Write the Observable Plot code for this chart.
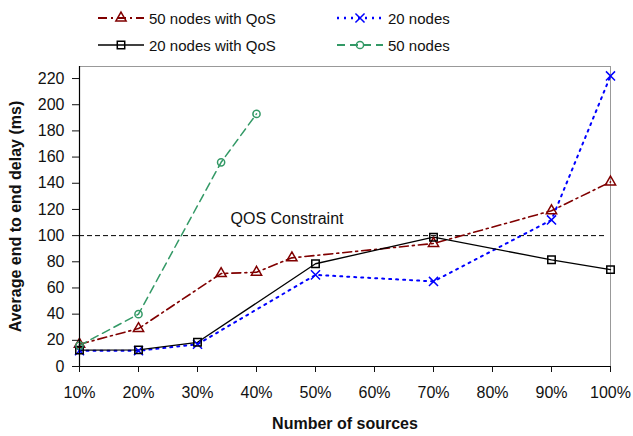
<!DOCTYPE html>
<html>
<head>
<meta charset="utf-8">
<script src="https://cdn.jsdelivr.net/npm/d3@7"></script>
<script src="https://cdn.jsdelivr.net/npm/@observablehq/plot@0.6"></script>
<style>
  body { margin: 0; background: #fff; font-family: "Liberation Sans", Arial, sans-serif; }
  #wrap { width: 633px; }
  #legend { position: relative; width: 633px; height: 60px; font-size: 15px; color: #111; }
  .item { position: absolute; display: flex; align-items: center; height: 20px; }
  .item svg { margin-right: 4px; }
</style>
</head>
<body>
<div id="wrap">
  <div id="legend"></div>
  <div id="chart"></div>
</div>
<script>
// ---- data ----
const xTicks = [10, 20, 30, 40, 50, 60, 70, 80, 90, 100];
const yTicks = [0, 20, 40, 60, 80, 100, 120, 140, 160, 180, 200, 220];

const qos50X = [10, 20, 34, 40, 46, 70, 90, 100];
const qos50Y = [17, 29, 71, 72, 83, 94, 119, 141];

const n20X = [10, 20, 30, 50, 70, 90, 100];
const n20Y = [12, 12, 17, 70, 65, 112, 222];

const qos20X = [10, 20, 30, 50, 70, 90, 100];
const qos20Y = [12.5, 12.7, 18.5, 78.5, 98.8, 81.5, 74];

const n50X = [10, 20, 34, 40];
const n50Y = [16, 40, 156, 193];

const qosLimit = 100;
const qosLabel = "QOS Constraint";

const seriesNames = ["50 nodes with QoS", "20 nodes", "20 nodes with QoS", "50 nodes"];

// ---- styles ----
const styles = {
  "50 nodes with QoS": {color: "#800000", dash: "9,4,2,4", width: 1.6, symbol: "triangle", r: 3.8},
  "20 nodes":          {color: "#0000ff", dash: "2,5", width: 2, symbol: "times", r: 4.2},
  "20 nodes with QoS": {color: "#000000", dash: null, width: 1.3, symbol: "square", r: 4.2},
  "50 nodes":          {color: "#339966", dash: "8,5", width: 1.5, symbol: "circle", r: 3.6}
};

const toRows = (name, xs, ys) => xs.map((x, i) => ({series: name, x, y: ys[i]}));
const data = {
  "50 nodes with QoS": toRows(seriesNames[0], qos50X, qos50Y),
  "20 nodes": toRows(seriesNames[1], n20X, n20Y),
  "20 nodes with QoS": toRows(seriesNames[2], qos20X, qos20Y),
  "50 nodes": toRows(seriesNames[3], n50X, n50Y)
};

// ---- legend ----
const legend = document.getElementById("legend");
const legendPos = {
  "50 nodes with QoS": [97, 8],
  "20 nodes": [336, 8],
  "20 nodes with QoS": [97, 35],
  "50 nodes": [336, 35]
};
for (const name of seriesNames) {
  const s = styles[name];
  const div = document.createElement("div");
  div.className = "item";
  div.style.left = legendPos[name][0] + "px";
  div.style.top = legendPos[name][1] + "px";
  const sym = d3.symbol().type({triangle: d3.symbolTriangle, times: d3.symbolTimes, square: d3.symbolSquare, circle: d3.symbolCircle}[s.symbol]).size(Math.PI * s.r * s.r)();
  div.innerHTML = `<svg width="48" height="20"><line x1="1" x2="47" y1="10" y2="10" stroke="${s.color}" stroke-width="${s.width + 0.4}" ${s.dash ? `stroke-dasharray="${s.dash}"` : ""}/><path transform="translate(24,10)" d="${sym}" fill="none" stroke="${s.color}" stroke-width="1.5"/></svg><span>${name}</span>`;
  legend.appendChild(div);
}

// ---- chart ----
const marks = [
  Plot.frame({stroke: "#999"}),
  Plot.ruleY([qosLimit], {x1: 10, x2: 99.4, stroke: "#000", strokeDasharray: "5,3", strokeWidth: 1}),
  Plot.text([qosLabel], {x: 35.6, y: 113, text: d => d, textAnchor: "start", fontSize: 16, fill: "#111"}),
];
for (const name of seriesNames) {
  const s = styles[name];
  marks.push(Plot.line(data[name], {x: "x", y: "y", stroke: s.color, strokeWidth: s.width, strokeDasharray: s.dash ?? undefined}));
}
for (const name of seriesNames) {
  const s = styles[name];
  marks.push(Plot.dot(data[name], {x: "x", y: "y", symbol: () => s.symbol, r: s.r, stroke: s.color, fill: "none", strokeWidth: 1.5}));
}
marks.push(
  Plot.ruleX([10], {stroke: "#000", strokeWidth: 1.2}),
  Plot.ruleY([0], {stroke: "#000", strokeWidth: 1.2}),
  Plot.axisY({ticks: yTicks, tickSize: 7, tickPadding: 8, fontSize: 16, label: "Average end to end delay (ms)", labelArrow: "none", labelAnchor: "center", labelOffset: 70}),
  Plot.axisX({ticks: xTicks, tickSize: 6, tickPadding: 14, fontSize: 16, tickFormat: d => d + "%", label: "Number of sources", labelArrow: "none", labelAnchor: "center", labelOffset: 62})
);

const chart = Plot.plot({
  width: 633,
  height: 376,
  marginTop: 6,
  marginBottom: 70,
  marginLeft: 79,
  marginRight: 23,
  style: {fontFamily: "Liberation Sans, Arial, sans-serif", fontSize: "16px", color: "#111", background: "#fff"},
  x: {domain: [10, 100]},
  y: {domain: [0, 229.2]},
  symbol: {type: "identity"},
  marks
});
document.getElementById("chart").appendChild(chart);

// bold axis labels, no arrows
chart.querySelectorAll("[aria-label='x-axis label'] text, [aria-label='y-axis label'] text").forEach(t => {
  t.style.fontWeight = "bold";
  t.style.fontSize = "16px";
  t.textContent = t.textContent.replace(/\s*[→↑←↓]\s*/g, "");
});
chart.querySelectorAll("[aria-label='x-axis tick label'] text, [aria-label='y-axis tick label'] text").forEach(t => {
  t.style.fontSize = "16px";
});
</script>
</body>
</html>
